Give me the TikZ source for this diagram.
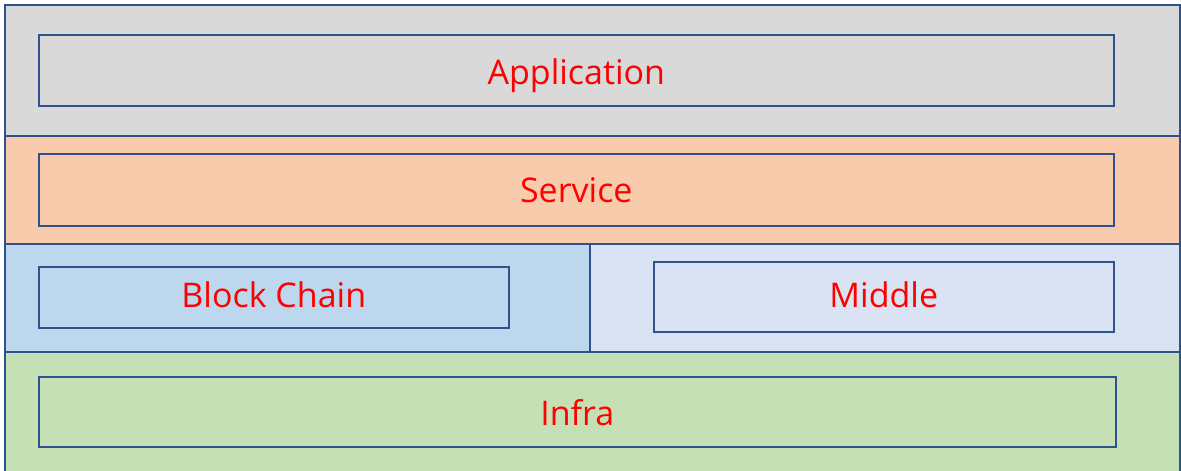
\documentclass[tikz,border=0pt]{standalone}
\usepackage{fontspec}
\setmainfont{Open Sans}
\definecolor{edge}{HTML}{2F528F}
\definecolor{appfill}{HTML}{D9D9D9}
\definecolor{svcfill}{HTML}{F8CBAD}
\definecolor{bcfill}{HTML}{BDD7EE}
\definecolor{midfill}{HTML}{DAE3F3}
\definecolor{infrafill}{HTML}{C5E0B4}
\definecolor{labelred}{HTML}{FF0000}
\begin{document}
\begin{tikzpicture}[x=1pt,y=-1pt,
  band/.style={draw=edge,line width=1.3pt},
  layerbox/.style={draw=edge,line width=1.6pt,inner sep=0pt,anchor=north west},
  lbl/.style={text=labelred,font=\fontsize{34}{40}\selectfont,inner sep=0pt,anchor=base}]
\useasboundingbox (0,0) rectangle (1181,471);
% bands
\path[band,fill=appfill] (5,5) rectangle (1180,136);
\path[band,fill=svcfill] (5,136) rectangle (1180,244);
\path[band,fill=bcfill] (5,244) rectangle (590,352);
\path[band,fill=midfill] (590,244) rectangle (1180,352);
\path[band,fill=infrafill] (5,352) rectangle (1180,480);
% inner boxes
\node[layerbox,fill=appfill,minimum width=1075pt,minimum height=71pt] (app) at (38,34) {};
\node[layerbox,fill=svcfill,minimum width=1075pt,minimum height=72pt] (svc) at (38,153) {};
\node[layerbox,fill=bcfill,minimum width=470pt,minimum height=61pt] (bc) at (38,266) {};
\node[layerbox,fill=midfill,minimum width=460pt,minimum height=70pt] (mid) at (653,261) {};
\node[layerbox,fill=infrafill,minimum width=1077pt,minimum height=70pt] (infra) at (38,376) {};
% labels
\node[lbl] (tapp) at (app.center |- 0,84) {Application};
\node[lbl] (tsvc) at (svc.center |- 0,202) {Service};
\node[lbl] (tbc) at (bc.center |- 0,307) {Block Chain};
\node[lbl] (tmid) at (mid.center |- 0,307) {Middle};
\node[lbl] (tinfra) at (infra.center |- 0,425) {Infra};
\end{tikzpicture}
\end{document}
